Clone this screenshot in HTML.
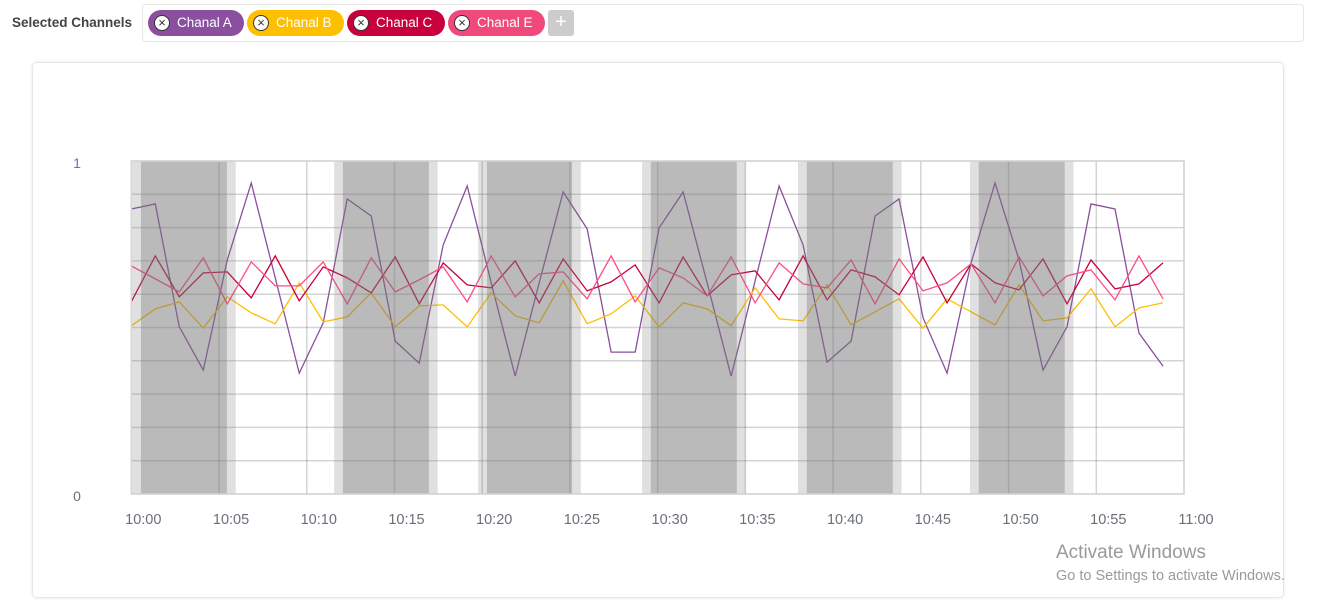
<!DOCTYPE html>
<html><head><meta charset="utf-8"><style>
body{margin:0;width:1323px;height:615px;background:#fff;font-family:"Liberation Sans",sans-serif;position:relative;overflow:hidden}
.lbl{position:absolute;left:12px;top:15px;font-size:13.5px;font-weight:bold;color:#444}
.bar{position:absolute;left:142px;top:4px;width:1160px;height:36px;border:1px solid #e6e6e6;border-radius:4px}
.chip{position:absolute;top:10px;height:26px;border-radius:13px;color:#fff;font-size:13.5px;line-height:26px;padding-left:29px;box-sizing:border-box}
.chip .x{position:absolute;left:6px;top:5px;width:16px;height:16px;border-radius:50%;background:#fff;border:1px solid #333;box-sizing:border-box;color:#333;font-size:13px;line-height:14px;text-align:center}
.add{position:absolute;left:548px;top:10px;width:26px;height:26px;background:#ccc;border-radius:3px;color:#fff;font-size:20px;line-height:25px;text-align:center}
.card{position:absolute;left:33px;top:63px;width:1250px;height:534px;border-radius:4px;box-shadow:0 0 3px rgba(0,0,0,.25)}
svg{position:absolute;left:0;top:0}
.wm1{position:absolute;left:1056px;top:542px;font-size:19px;color:#9a9a9a}
.wm2{position:absolute;left:1056px;top:568px;font-size:14.5px;color:#9a9a9a}
</style></head><body>
<div class="lbl">Selected Channels</div>
<div class="bar"></div>
<div class="chip" style="left:148px;width:96px;background:#8a4f9e"><span class="x">×</span>Chanal A</div>
<div class="chip" style="left:247px;width:97px;background:#fdbf00"><span class="x">×</span>Chanal B</div>
<div class="chip" style="left:347px;width:98px;background:#c8003c"><span class="x">×</span>Chanal C</div>
<div class="chip" style="left:448px;width:97px;background:#ef4a7b"><span class="x">×</span>Chanal E</div>
<div class="add">+</div>
<div class="card"></div>
<svg id="chart" width="1323" height="615"></svg>
<div class="wm1">Activate Windows</div>
<div class="wm2">Go to Settings to activate Windows.</div>
<script>
const xTicks=["10:00","10:05","10:10","10:15","10:20","10:25","10:30","10:35","10:40","10:45","10:50","10:55","11:00"];
const yTicks=["0","1"];
const stepMin=1.3675;
const bands=[[0.55,5.45],[12.06,16.96],[20.27,25.12],[29.61,34.51],[38.5,43.4],[48.3,53.2]];
const seriesA=[.856,.871,.502,.372,.703,.934,.649,.363,.514,.886,.835,.459,.393,.748,.925,.634,.354,.634,.907,.796,.426,.426,.799,.907,.634,.354,.640,.925,.748,.396,.459,.835,.886,.529,.363,.694,.934,.703,.372,.502,.871,.856,.483,.384];
const seriesB=[.505,.556,.577,.498,.592,.544,.511,.634,.517,.532,.604,.502,.565,.568,.502,.604,.535,.514,.640,.511,.541,.595,.502,.574,.556,.505,.619,.526,.520,.628,.508,.547,.586,.498,.586,.547,.508,.628,.520,.529,.616,.502,.559,.574];
const seriesC=[.577,.715,.592,.664,.667,.589,.715,.580,.682,.649,.604,.712,.571,.694,.628,.619,.700,.574,.706,.610,.637,.688,.574,.712,.595,.658,.670,.583,.715,.583,.673,.652,.598,.712,.574,.691,.634,.613,.706,.571,.703,.616,.631,.694];
const seriesE=[.685,.646,.607,.709,.571,.697,.625,.625,.697,.571,.709,.607,.643,.682,.577,.715,.592,.661,.667,.586,.715,.577,.679,.649,.595,.712,.574,.694,.631,.619,.703,.571,.706,.610,.634,.691,.574,.712,.595,.655,.673,.583,.715,.586];
const X0=131.3,X1=1184,Y0=494,Y1=161;
const xs=m=>X0+m*(X1-X0)/60;
const ys=v=>Y0-v*(Y0-Y1);
const NS='http://www.w3.org/2000/svg';
const svg=document.getElementById('chart');
function mk(t,a){const e=document.createElementNS(NS,t);for(const k in a)e.setAttribute(k,a[k]);svg.appendChild(e);return e;}
for(let i=0;i<=10;i++){const y=Y1+i*(Y0-Y1)/10;const l=mk('line',{x1:X0,x2:X1,y1:y,y2:y,stroke:'rgba(0,0,0,0.17)','stroke-width':1.5});

}
xTicks.forEach((t,i)=>{const x=xs(i*5);
const l=mk('line',{x1:x,x2:x,y1:Y1,y2:Y0,stroke:'rgba(0,0,0,0.17)','stroke-width':1.5});


const tx=mk('text',{x:x+12,y:524,'text-anchor':'middle','font-size':14.5,fill:'#6a6f78','font-family':'Liberation Sans, sans-serif'});tx.textContent=t;

});
yTicks.forEach((t,i)=>{const tx=mk('text',{x:77,y:ys(i)+7,'text-anchor':'middle','font-size':14,fill:i?'#5b7aa8':'#6a6f78','font-family':'Liberation Sans, sans-serif'});tx.textContent=t;

});
const cols=[['#8a4f9e',seriesA,'line-chanal-a'],['#fdbf00',seriesB,'line-chanal-b'],['#c8003c',seriesC,'line-chanal-c'],['#ff4d80',seriesE,'line-chanal-e']];
cols.forEach(([c,d,n])=>{const p=mk('polyline',{fill:'none',stroke:c,'stroke-width':1.3,points:d.map((v,i)=>xs(i*stepMin)+','+ys(v)).join(' ')});

});
bands.forEach(([a,b])=>{const pad=0.5;
const l=mk('rect',{x:xs(a-pad),y:Y1,width:xs(b+pad)-xs(a-pad),height:Y0-Y1,fill:'rgba(120,120,120,0.23)'});


const r=mk('rect',{x:xs(a),y:Y1,width:xs(b)-xs(a),height:Y0-Y1,fill:'rgba(120,120,120,0.36)'});

});
const f=mk('rect',{x:X0,y:Y1,width:X1-X0,height:Y0-Y1,fill:'none',stroke:'#d6d6d6','stroke-width':1.5});


</script>
</body></html>
